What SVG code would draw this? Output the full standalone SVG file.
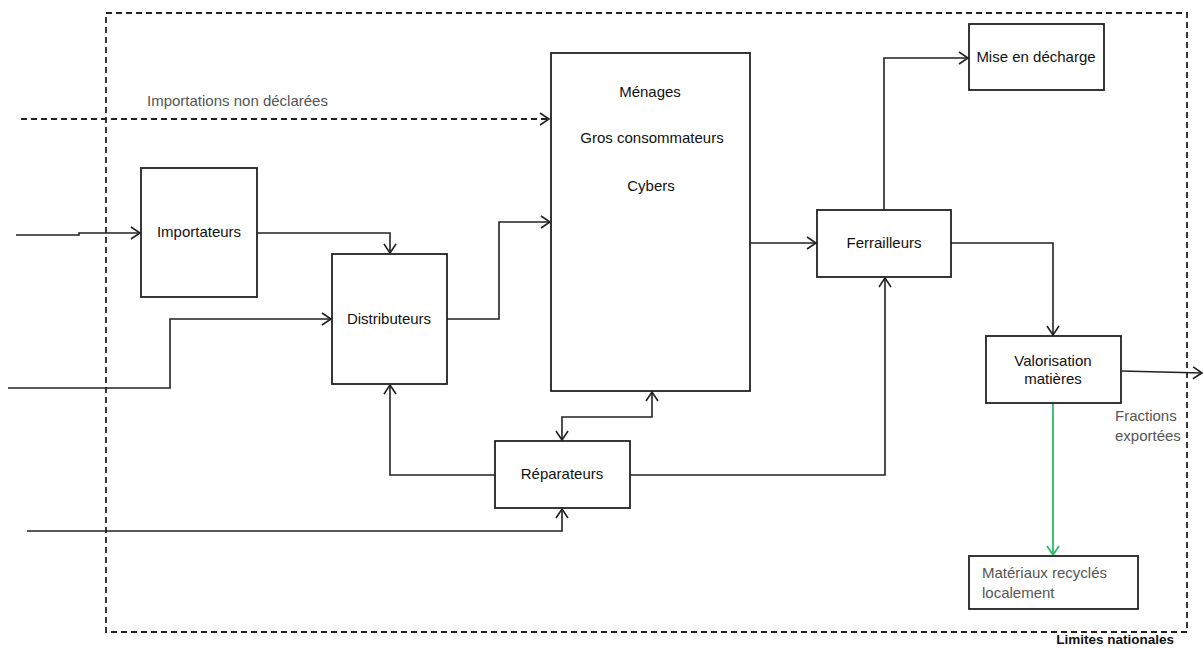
<svg xmlns="http://www.w3.org/2000/svg" width="1204" height="648" viewBox="0 0 1204 648">
<style>
.box{fill:#fff;stroke:#222;stroke-width:1.8}
.ln{fill:none;stroke:#222;stroke-width:1.6}
.dash{fill:none;stroke:#222;stroke-width:1.8;stroke-dasharray:6 4}
.t{font-family:"Liberation Sans",Arial,sans-serif;font-size:15px;fill:#111;text-anchor:middle}
.g{font-family:"Liberation Sans",Arial,sans-serif;font-size:15px;fill:#555}
</style>
<defs>
<marker id="a" markerUnits="userSpaceOnUse" markerWidth="14" markerHeight="14" refX="11" refY="7" orient="auto">
<path d="M2,1 L11,7 L2,13" fill="none" stroke="#222" stroke-width="1.6"/>
</marker>
<marker id="as" markerUnits="userSpaceOnUse" markerWidth="14" markerHeight="14" refX="3" refY="7" orient="auto">
<path d="M12,1 L3,7 L12,13" fill="none" stroke="#222" stroke-width="1.6"/>
</marker>
<marker id="ag" markerUnits="userSpaceOnUse" markerWidth="14" markerHeight="14" refX="11" refY="7" orient="auto">
<path d="M2,1 L11,7 L2,13" fill="none" stroke="#2dbb63" stroke-width="1.8"/>
</marker>
</defs>

<g id="boundary">
<rect x="106" y="13" width="1081" height="619" class="dash"/>
<text x="1174" y="644" font-family="'Liberation Sans',Arial,sans-serif" font-size="13.5" font-weight="bold" fill="#111" text-anchor="end">Limites nationales</text>
</g>

<g id="connectors">
<path class="dash" d="M21,119 H549" marker-end="url(#a)"/>
<path class="ln" d="M16,235 H79 V233 H140" marker-end="url(#a)"/>
<path class="ln" d="M257,233 H390 V253" marker-end="url(#a)"/>
<path class="ln" d="M8,388 H170 V319 H331" marker-end="url(#a)"/>
<path class="ln" d="M447,319 H499 V222 H550" marker-end="url(#a)"/>
<path class="ln" d="M495,475 H390 V385" marker-end="url(#a)"/>
<path class="ln" d="M562,440 V417 H652 V392" marker-start="url(#as)" marker-end="url(#a)"/>
<path class="ln" d="M27,531 H562 V509" marker-end="url(#a)"/>
<path class="ln" d="M630,475 H885 V278" marker-end="url(#a)"/>
<path class="ln" d="M750,243 H816" marker-end="url(#a)"/>
<path class="ln" d="M884,210 V58 H968" marker-end="url(#a)"/>
<path class="ln" d="M951,243 H1053 V335" marker-end="url(#a)"/>
<path class="ln" d="M1121,371 L1202,373" marker-end="url(#a)"/>
<path d="M1053,403 V555" fill="none" stroke="#2dbb63" stroke-width="1.8" marker-end="url(#ag)"/>
<text x="147" y="106" class="g">Importations non déclarées</text>
<text x="1115" y="421" class="g">Fractions</text>
<text x="1115" y="441" class="g">exportées</text>
</g>

<g id="menages">
<rect x="551" y="53" width="199" height="338" class="box"/>
<text x="650" y="97" class="t">Ménages</text>
<text x="652" y="143" class="t">Gros consommateurs</text>
<text x="651" y="191" class="t">Cybers</text>
</g>

<g id="importateurs">
<rect x="141" y="168" width="116" height="129" class="box"/>
<text x="199" y="237" class="t">Importateurs</text>
</g>

<g id="distributeurs">
<rect x="332" y="254" width="115" height="130" class="box"/>
<text x="389" y="324" class="t">Distributeurs</text>
</g>

<g id="reparateurs">
<rect x="495" y="441" width="135" height="67" class="box"/>
<text x="562" y="479" class="t">Réparateurs</text>
</g>

<g id="ferrailleurs">
<rect x="817" y="210" width="134" height="67" class="box"/>
<text x="884" y="248" class="t">Ferrailleurs</text>
</g>

<g id="decharge">
<rect x="969" y="24" width="135" height="66" class="box"/>
<text x="1036" y="62" class="t">Mise en décharge</text>
</g>

<g id="valorisation">
<rect x="986" y="336" width="135" height="67" class="box"/>
<text x="1053" y="366" class="t">Valorisation</text>
<text x="1053" y="384" class="t">matières</text>
</g>

<g id="materiaux">
<rect x="969" y="556" width="169" height="53" class="box"/>
<text x="982" y="578" class="g" fill="#333">Matériaux recyclés</text>
<text x="982" y="598" class="g">localement</text>
</g>
</svg>
